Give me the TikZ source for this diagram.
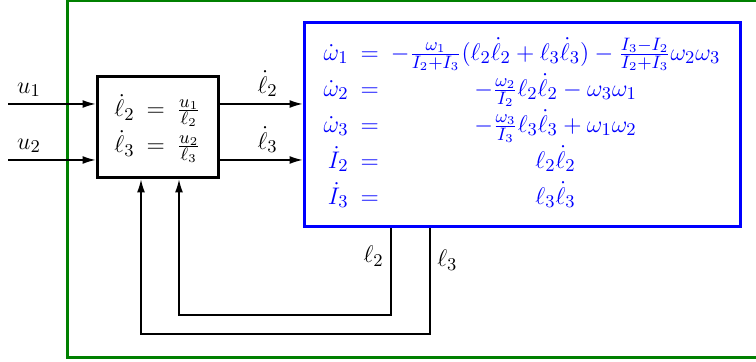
\documentclass[tikz,border=0pt]{standalone}
\usepackage{amsmath}
\usepackage{amssymb}
\usepackage{tikz}
\usetikzlibrary{arrows.meta,positioning}

\begin{document}
\begin{tikzpicture}[
  x=0.5pt, y=-0.5pt,
  >={Latex[length=6.5pt,width=4pt]},
  every node/.style={font=\fontsize{12.5}{15}\selectfont},
  sig/.style={->, line width=0.6pt},
  fb/.style={->, line width=0.6pt},
  ctrl/.style={draw, line width=1.5pt, minimum width=60.5pt,
               minimum height=50.5pt, inner sep=0pt},
  plant/.style={draw=blue, line width=1.5pt, text=blue, minimum width=218pt,
                minimum height=102pt, inner sep=0pt}
]
  \useasboundingbox (0,0) rectangle (756,362);
  % outer frame
  \draw[green!50!black, line width=1.5pt] (67,1) rectangle (800,358);
  % blocks
  \node[ctrl] (dyn) at (157.5,127.5) {$\renewcommand{\arraystretch}{1.2}
    \arraycolsep=3pt
    \begin{array}{rcl}
      \dot{\ell}_2 &=& \frac{u_1}{\ell_2}\\
      \dot{\ell}_3 &=& \frac{u_2}{\ell_3}
    \end{array}$};
  \node[plant] (sys) at (522,125) {$\renewcommand{\arraystretch}{1.2}
    \arraycolsep=3pt
    \begin{array}{rcc}
      \dot{\omega}_1 &=& -\frac{\omega_1}{I_2+I_3}(\ell_2\dot{\ell}_2+\ell_3\dot{\ell}_3)
                         -\frac{I_3-I_2}{I_2+I_3}\omega_2\omega_3\\
      \dot{\omega}_2 &=& -\frac{\omega_2}{I_2}\ell_2\dot{\ell}_2-\omega_3\omega_1\\
      \dot{\omega}_3 &=& -\frac{\omega_3}{I_3}\ell_3\dot{\ell}_3+\omega_1\omega_2\\
      \dot{I}_2 &=& \ell_2\dot{\ell}_2\\
      \dot{I}_3 &=& \ell_3\dot{\ell}_3
    \end{array}$};
  % inputs and outputs
  \coordinate (in1) at (8,104);
  \coordinate (in2) at (8,160);
  \draw[sig] (in1) -- (dyn.west |- in1) node[pos=0.24, above] {$u_1$};
  \draw[sig] (in2) -- (dyn.west |- in2) node[pos=0.24, above] {$u_2$};
  \draw[sig] (dyn.east |- in1) -- (sys.west |- in1) node[pos=0.58, above] {$\dot{\ell}_2$};
  \draw[sig] (dyn.east |- in2) -- (sys.west |- in2) node[pos=0.58, above] {$\dot{\ell}_3$};
  % feedback
  \coordinate (r2) at (391,315);
  \coordinate (l2) at (179,315);
  \coordinate (r3) at (430,334);
  \coordinate (l3) at (141,334);
  \draw[fb] (sys.south -| r2) -- (r2) node[pos=0.32, left] {$\ell_2$}
            -- (l2) -- (dyn.south -| l2);
  \draw[fb] (sys.south -| r3) -- (r3) node[pos=0.3, right] {$\ell_3$}
            -- (l3) -- (dyn.south -| l3);
\end{tikzpicture}
\end{document}
